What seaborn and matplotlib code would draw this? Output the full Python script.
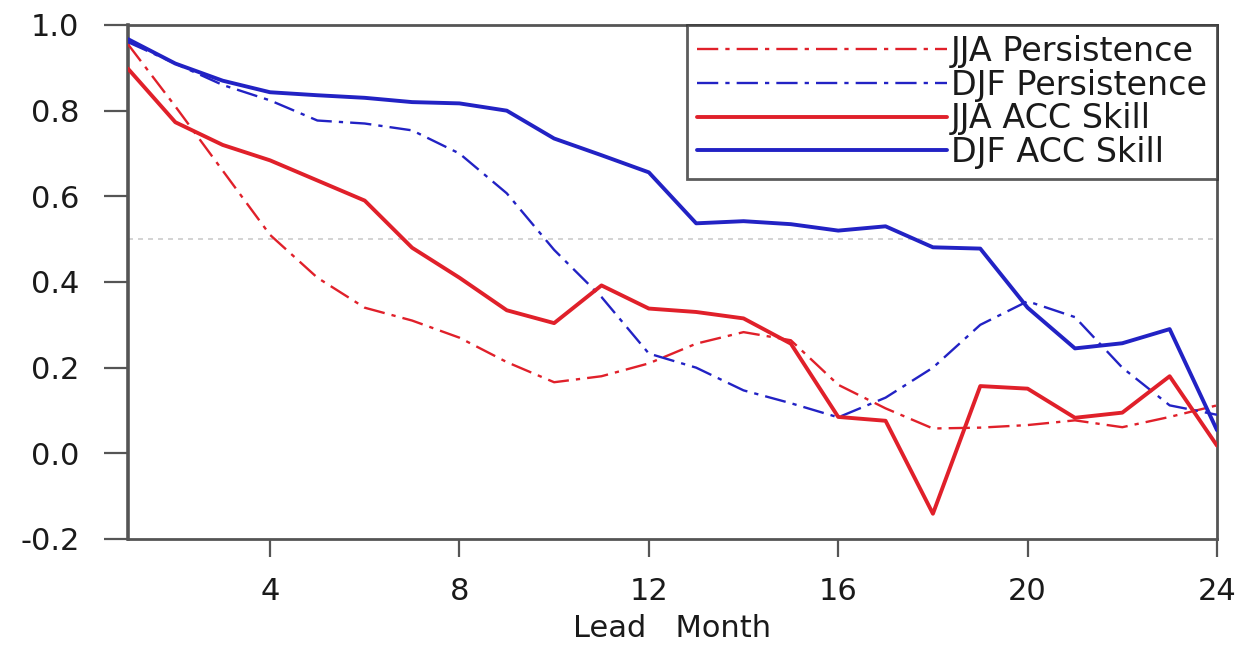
import matplotlib
matplotlib.use("Agg")
import matplotlib.pyplot as plt
import numpy as np
import pandas as pd
import seaborn as sns

# Lead months and correlation series
months = list(range(1, 25))
jja_persistence = [0.955, 0.81, 0.66, 0.51, 0.41, 0.34, 0.31, 0.27, 0.213, 0.166, 0.18, 0.21,
                   0.256, 0.283, 0.264, 0.16, 0.105, 0.058, 0.06, 0.066, 0.077, 0.061, 0.085, 0.112]
djf_persistence = [0.96, 0.91, 0.86, 0.824, 0.777, 0.77, 0.754, 0.70, 0.607, 0.475, 0.365, 0.233,
                   0.20, 0.147, 0.117, 0.084, 0.13, 0.20, 0.30, 0.355, 0.318, 0.20, 0.112, 0.09]
jja_acc = [0.898, 0.773, 0.72, 0.684, 0.637, 0.59, 0.48, 0.41, 0.334, 0.304, 0.392, 0.338,
           0.33, 0.315, 0.256, 0.085, 0.076, -0.141, 0.157, 0.151, 0.083, 0.095, 0.18, 0.018]
djf_acc = [0.967, 0.91, 0.87, 0.843, 0.836, 0.83, 0.82, 0.817, 0.80, 0.735, 0.696, 0.656,
           0.537, 0.542, 0.535, 0.52, 0.53, 0.481, 0.478, 0.34, 0.245, 0.257, 0.29, 0.054]

series_names = ["JJA Persistence", "DJF Persistence", "JJA ACC Skill", "DJF ACC Skill"]
series_values = [jja_persistence, djf_persistence, jja_acc, djf_acc]

x_ticks = [4, 8, 12, 16, 20, 24]
y_ticks = [-0.2, 0.0, 0.2, 0.4, 0.6, 0.8, 1.0]
y_tick_labels = ["-0.2", "0.0", "0.2", "0.4", "0.6", "0.8", "1.0"]

df = pd.concat(
    [pd.DataFrame({"month": months, "value": v, "series": n})
     for n, v in zip(series_names, series_values)],
    ignore_index=True,
)

red = "#e0202a"
blue = "#2222c4"
palette = {"JJA Persistence": red, "DJF Persistence": blue,
           "JJA ACC Skill": red, "DJF ACC Skill": blue}
dashdot = (9.0, 3.0, 1.8, 3.0)
dashes = {"JJA Persistence": dashdot, "DJF Persistence": dashdot,
          "JJA ACC Skill": "", "DJF ACC Skill": ""}
widths = {"JJA Persistence": 1.7, "DJF Persistence": 1.7,
          "JJA ACC Skill": 2.8, "DJF ACC Skill": 2.8}

sns.set_theme(style="white")
plt.rcParams["font.family"] = ["DejaVu Sans"]
plt.rcParams["axes.unicode_minus"] = False

W, H = 1241, 645
fig = plt.figure(figsize=(W / 100, H / 100), dpi=100)
ax = fig.add_axes([128 / W, 1 - 539 / H, (1217 - 128) / W, (539 - 25) / H])

# reference level at 0.5
ax.axhline(0.5, color="#cccccc", lw=1.2, ls=(0, (3, 3)), zorder=1)

sns.lineplot(data=df, x="month", y="value", hue="series", style="series", size="series",
             hue_order=series_names, style_order=series_names, size_order=series_names,
             palette=palette, dashes=dashes, sizes=widths, ax=ax, legend=True, zorder=3)

ax.set_xlim(1, 24)
ax.set_ylim(-0.2, 1.0)
ax.set_xticks(x_ticks)
ax.set_xticklabels([str(t) for t in x_ticks])
ax.set_yticks(y_ticks)
ax.set_yticklabels(y_tick_labels)
ax.set_xlabel("Lead   Month", fontsize=22, labelpad=6, color="#1a1a1a")
ax.set_ylabel("")

spine_color = "#555555"
for side, sp in ax.spines.items():
    sp.set_visible(True)
    sp.set_color(spine_color)
    sp.set_linewidth(2.0)
ax.spines["left"].set_linewidth(2.6)

ax.tick_params(axis="y", direction="out", length=17, width=1.6, color=spine_color,
               pad=18, labelsize=22, labelcolor="#1a1a1a", left=True)
ax.tick_params(axis="x", direction="out", length=13, width=1.6, color=spine_color,
               pad=14, labelsize=22, labelcolor="#1a1a1a", bottom=True)

handles, labels = ax.get_legend_handles_labels()
pairs = [(h, l) for h, l in zip(handles, labels) if l in series_names]
leg = ax.legend([p[0] for p in pairs], [p[1] for p in pairs], loc="upper right",
                borderaxespad=0, frameon=True, fancybox=False, fontsize=24,
                handlelength=7.5, handletextpad=0.12, labelspacing=0.02,
                borderpad=0.3)
leg.get_frame().set_edgecolor("#333333")
leg.get_frame().set_linewidth(2.0)
for t in leg.get_texts():
    t.set_color("#1a1a1a")

fig.savefig("out.png", dpi=100, facecolor="white")
